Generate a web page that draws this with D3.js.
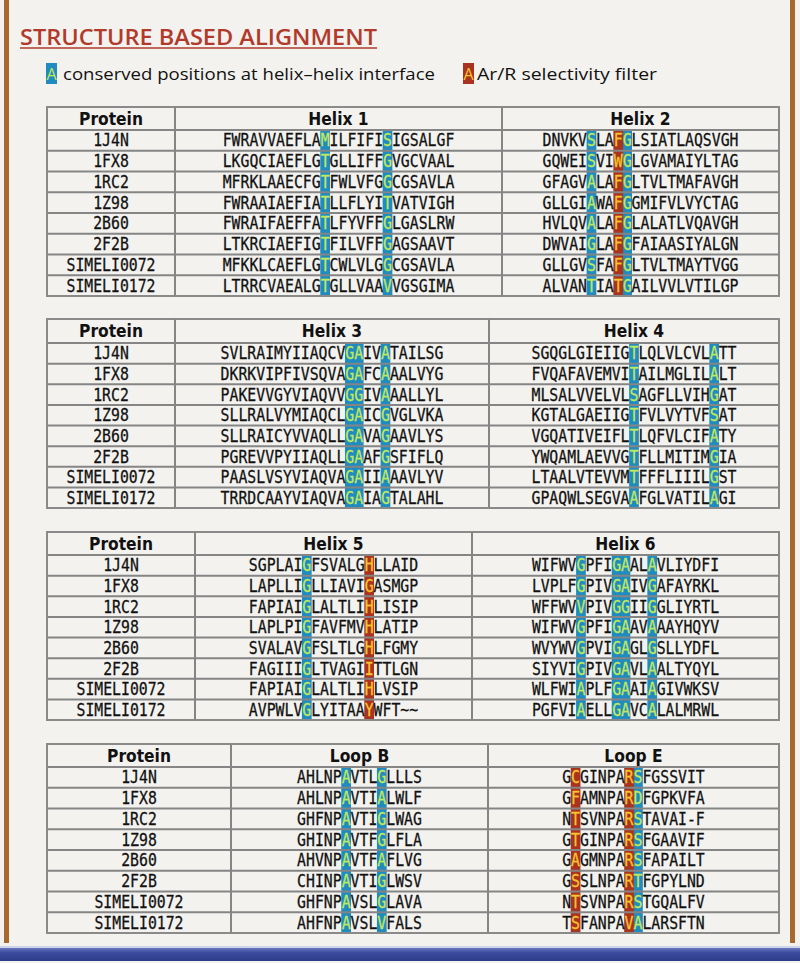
<!DOCTYPE html>
<html><head><meta charset="utf-8">
<script src="https://cdn.jsdelivr.net/npm/d3@7"></script>
<style>body{margin:0;background:#f3f2ef;} svg{display:block}</style>
</head><body>
<svg id="c" width="800" height="963"></svg>
<script>
// ---------------- DATA ----------------
const proteins = ["1J4N","1FX8","1RC2","1Z98","2B60","2F2B","SIMELI0072","SIMELI0172"];
const segmentNames = ["Helix 1","Helix 2","Helix 3","Helix 4","Helix 5","Helix 6","Loop B","Loop E"];

const helix1 = ["FWRAVVAEFLAMILFIFISIGSALGF","LKGQCIAEFLGTGLLIFFGVGCVAAL","MFRKLAAECFGTFWLVFGGCGSAVLA","FWRAAIAEFIATLLFLYITVATVIGH","FWRAIFAEFFATLFYVFFGLGASLRW","LTKRCIAEFIGTFILVFFGAGSAAVT","MFKKLCAEFLGTCWLVLGGCGSAVLA","LTRRCVAEALGTGLLVAAVVGSGIMA"];
const helix2 = ["DNVKVSLAFGLSIATLAQSVGH","GQWEISVIWGLGVAMAIYLTAG","GFAGVALAFGLTVLTMAFAVGH","GLLGIAWAFGGMIFVLVYCTAG","HVLQVALAFGLALATLVQAVGH","DWVAIGLAFGFAIAASIYALGN","GLLGVSFAFGLTVLTMAYTVGG","ALVANTIATGAILVVLVTILGP"];
const helix3 = ["SVLRAIMYIIAQCVGAIVATAILSG","DKRKVIPFIVSQVAGAFCAAALVYG","PAKEVVGYVIAQVVGGIVAAALLYL","SLLRALVYMIAQCLGAICGVGLVKA","SLLRAICYVVAQLLGAVAGAAVLYS","PGREVVPYIIAQLLGAAFGSFIFLQ","PAASLVSYVIAQVAGAIIAAAVLYV","TRRDCAAYVIAQVAGAIAGTALAHL"];
const helix4 = ["SGQGLGIEIIGTLQLVLCVLATT","FVQAFAVEMVITAILMGLILALT","MLSALVVELVLSAGFLLVIHGAT","KGTALGAEIIGTFVLVYTVFSAT","VGQATIVEIFLTLQFVLCIFATY","YWQAMLAEVVGTFLLMITIMGIA","LTAALVTEVVMTFFFLIIILGST","GPAQWLSEGVAAFGLVATILAGI"];
const helix5 = ["SGPLAIGFSVALGHLLAID","LAPLLIGLLIAVIGASMGP","FAPIAIGLALTLIHLISIP","LAPLPIGFAVFMVHLATIP","SVALAVGFSLTLGHLFGMY","FAGIIIGLTVAGIITTLGN","FAPIAIGLALTLIHLVSIP","AVPWLVGLYITAAYWFT~~"];
const helix6 = ["WIFWVGPFIGAALAVLIYDFI","LVPLFGPIVGAIVGAFAYRKL","WFFWVVPIVGGIIGGLIYRTL","WIFWVGPFIGAAVAAAYHQYV","WVYWVGPVIGAGLGSLLYDFL","SIYVIGPIVGAVLAALTYQYL","WLFWIAPLFGAAIAGIVWKSV","PGFVIAELLGAVCALALMRWL"];
const loopB = ["AHLNPAVTLGLLLS","AHLNPAVTIALWLF","GHFNPAVTIGLWAG","GHINPAVTFGLFLA","AHVNPAVTFAFLVG","CHINPAVTIGLWSV","GHFNPAVSLGLAVA","AHFNPAVSLVFALS"];
const loopE = ["GCGINPARSFGSSVIT","GFAMNPARDFGPKVFA","NTSVNPARSTAVAI-F","GTGINPARSFGAAVIF","GAGMNPARSFAPAILT","GSSLNPARTFGPYLND","NTSVNPARSTGQALFV","TSFANPAVALARSFTN"];

// alignment column indices (0-based) that are highlighted
const helix1Conserved = [11, 18];   const helix1Filter = [];
const helix2Conserved = [5, 9];     const helix2Filter = [8];
const helix3Conserved = [14, 15, 18]; const helix3Filter = [];
const helix4Conserved = [11, 20];   const helix4Filter = [];
const helix5Conserved = [6];        const helix5Filter = [13];
const helix6Conserved = [5, 9, 10, 13]; const helix6Filter = [];
const loopBConserved = [5, 9];      const loopBFilter = [];
const loopEConserved = [8];         const loopEFilter = [1, 7];

const legendLabels = ["conserved positions at helix\u2013helix interface", "Ar/R selectivity filter"];
const titleText = "STRUCTURE BASED ALIGNMENT";

// ---------------- DRAWING ----------------
const seqs = [helix1, helix2, helix3, helix4, helix5, helix6, loopB, loopE];
const cons = [helix1Conserved, helix2Conserved, helix3Conserved, helix4Conserved, helix5Conserved, helix6Conserved, loopBConserved, loopEConserved];
const filt = [helix1Filter, helix2Filter, helix3Filter, helix4Filter, helix5Filter, helix6Filter, loopBFilter, loopEFilter];

const BLUE = "#1f8bbf", RED = "#aa3320", BLUE_TXT = "#c3e85a", RED_TXT = "#f6c62c";
const MONO = "'DejaVu Sans Mono', monospace";
const FS = 14.8, CW = FS * 0.6021, SY = 1.14;

const svg = d3.select("#c");

// vertical stretch of text around its centre line
const stretch = cy => `translate(0,${cy}) scale(1,${SY}) translate(0,${-cy})`;

// background and frame
svg.append("rect").attr("width", 800).attr("height", 963).attr("fill", "#f3f2ef");
svg.append("rect").attr("x", 4).attr("y", 0).attr("width", 5).attr("height", 943).attr("fill", "#a8692e");
svg.append("rect").attr("x", 790).attr("y", 0).attr("width", 5).attr("height", 943).attr("fill", "#a8692e");
const defs = svg.append("defs");
const g1 = defs.append("linearGradient").attr("id", "bb").attr("x1", 0).attr("x2", 0).attr("y1", 0).attr("y2", 1);
g1.append("stop").attr("offset", "0").attr("stop-color", "#6a78bd");
g1.append("stop").attr("offset", "0.35").attr("stop-color", "#3c4c9e");
g1.append("stop").attr("offset", "1").attr("stop-color", "#2d3b8a");
svg.append("rect").attr("x", 0).attr("y", 946).attr("width", 800).attr("height", 2).attr("fill", "#cdd3ea");
svg.append("rect").attr("x", 0).attr("y", 948).attr("width", 800).attr("height", 13).attr("fill", "url(#bb)");

// title
svg.append("text").attr("x", 20).attr("y", 45).text(titleText)
  .attr("font-family", "'Open Sans', sans-serif").attr("font-weight", 600).attr("font-size", 22)
  .attr("fill", "#b13a2b").attr("textLength", 357).attr("lengthAdjust", "spacingAndGlyphs");
svg.append("line").attr("x1", 20).attr("x2", 377).attr("y1", 48).attr("y2", 48).attr("stroke", "#b13a2b").attr("stroke-width", 1.6);

// legend
const legendItems = [
  {bx: 46, tx: 63, tw: 372, bg: BLUE, fg: BLUE_TXT, label: legendLabels[0]},
  {bx: 463, tx: 477, tw: 180, bg: RED, fg: RED_TXT, label: legendLabels[1]}
];
legendItems.forEach(d => {
  svg.append("rect").attr("x", d.bx).attr("y", 63).attr("width", 11).attr("height", 21).attr("fill", d.bg);
  svg.append("text").attr("x", d.bx + 5.5).attr("y", 80).attr("text-anchor", "middle").text("A")
    .attr("font-family", "'Open Sans', sans-serif").attr("font-size", 16).attr("fill", d.fg);
  svg.append("text").attr("x", d.tx).attr("y", 80).text(d.label)
    .attr("font-family", "'Open Sans', sans-serif").attr("font-size", 17).attr("fill", "#111")
    .attr("textLength", d.tw).attr("lengthAdjust", "spacingAndGlyphs");
});

// tables
const tables = [
  {top: 107, head: 130, bottom: 296, cols: [47, 175, 502, 779], segs: [0, 1]},
  {top: 319, head: 343, bottom: 508, cols: [47, 175, 489, 779], segs: [2, 3]},
  {top: 532, head: 555, bottom: 720, cols: [47, 195, 472, 779], segs: [4, 5]},
  {top: 744, head: 767, bottom: 933, cols: [47, 231, 488, 779], segs: [6, 7]}
];

tables.forEach(t => {
  const g = svg.append("g");
  const y = d3.scaleBand().domain(proteins).range([t.head, t.bottom]);
  const left = t.cols[0], right = t.cols[3];

  // highlight cells
  t.segs.forEach((s, k) => {
    const c0 = t.cols[k + 1], c1 = t.cols[k + 2];
    const len = seqs[s][0].length;
    const mid = (c0 + c1) / 2;
    const x = d3.scaleLinear().domain([0, len]).range([mid - len * CW / 2, mid + len * CW / 2]);
    const marks = [];
    proteins.forEach(p => {
      cons[s].forEach(i => marks.push({p, i, c: BLUE}));
      filt[s].forEach(i => marks.push({p, i, c: RED}));
    });
    g.selectAll(null).data(marks).join("rect")
      .attr("x", d => x(d.i) - 0.4).attr("width", CW + 0.8)
      .attr("y", d => y(d.p)).attr("height", y.bandwidth())
      .attr("fill", d => d.c);
    t["x" + k] = x;
  });

  // grid lines
  const stroke = "#858585";
  g.append("rect").attr("x", left).attr("y", t.top).attr("width", right - left).attr("height", t.bottom - t.top)
    .attr("fill", "none").attr("stroke", "#8a8a8a").attr("stroke-width", 2);
  g.selectAll(null).data([t.head].concat(proteins.slice(1).map(p => y(p)))).join("line")
    .attr("x1", left).attr("x2", right).attr("y1", d => d).attr("y2", d => d)
    .attr("stroke", stroke).attr("stroke-width", 2);
  g.selectAll(null).data([t.cols[1], t.cols[2]]).join("line")
    .attr("x1", d => d).attr("x2", d => d).attr("y1", t.top).attr("y2", t.bottom)
    .attr("stroke", stroke).attr("stroke-width", 2);

  // headers
  const hy = (t.top + t.head) / 2;
  const heads = [{x: (t.cols[0] + t.cols[1]) / 2, t: "Protein"}]
    .concat(t.segs.map((s, k) => ({x: (t.cols[k + 1] + t.cols[k + 2]) / 2, t: segmentNames[s]})));
  g.selectAll(null).data(heads).join("text")
    .attr("x", d => d.x).attr("y", hy).attr("dy", "0.36em")
    .attr("transform", stretch(hy))
    .attr("text-anchor", "middle").text(d => d.t)
    .attr("font-family", "'DejaVu Sans', sans-serif").attr("font-weight", "bold").attr("font-size", 15.5).attr("fill", "#111");

  // protein names
  g.selectAll(null).data(proteins).join("text")
    .attr("x", (t.cols[0] + t.cols[1]) / 2).attr("y", d => y(d) + y.bandwidth() / 2).attr("dy", "0.36em")
    .attr("transform", d => stretch(y(d) + y.bandwidth() / 2))
    .attr("text-anchor", "middle").text(d => d)
    .attr("font-family", MONO).attr("font-size", FS).attr("fill", "#111")
    .attr("stroke", "#111").attr("stroke-width", 0.25);

  // sequences
  t.segs.forEach((s, k) => {
    const x = t["x" + k];
    const cset = new Set(cons[s]), fset = new Set(filt[s]);
    proteins.forEach((p, r) => {
      const cy = y(p) + y.bandwidth() / 2;
      const txt = g.append("text").attr("y", cy).attr("dy", "0.36em")
        .attr("transform", stretch(cy))
        .attr("font-family", MONO).attr("font-size", FS).attr("text-anchor", "middle");
      const col = (d, i) => cset.has(i) ? BLUE_TXT : fset.has(i) ? RED_TXT : "#111";
      txt.selectAll("tspan").data(seqs[s][r].split("")).join("tspan")
        .attr("x", (d, i) => x(i) + CW / 2)
        .attr("fill", col).attr("stroke", col).attr("stroke-width", 0.25)
        .text(d => d);
    });
  });
});
</script>
</body></html>
